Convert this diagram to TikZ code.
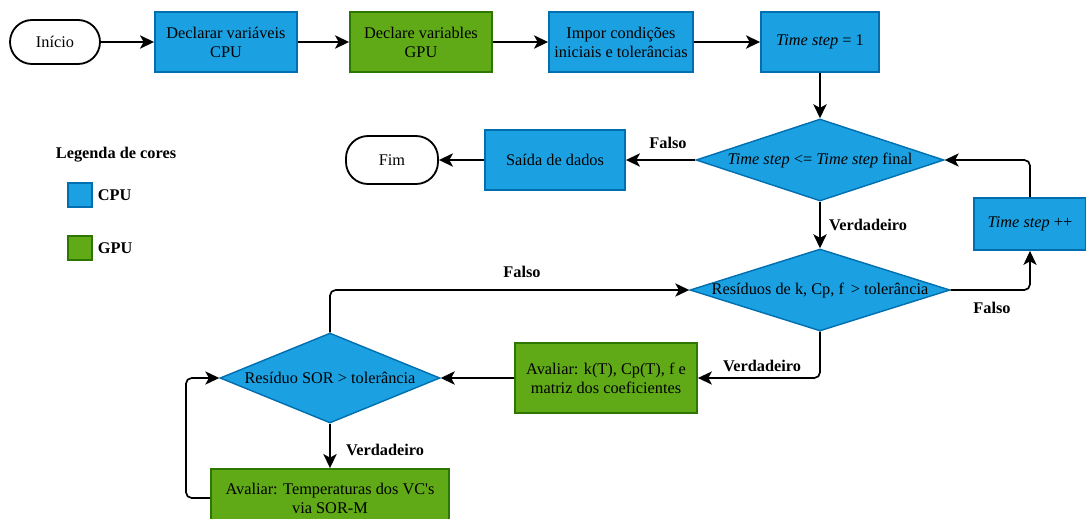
\documentclass[tikz,border=0pt]{standalone}
\usepackage{fontspec}
\setmainfont{Liberation Serif}
\usetikzlibrary{shapes.geometric,arrows.meta}

\definecolor{cpufill}{HTML}{1BA1E2}
\definecolor{cpuline}{HTML}{006EAF}
\definecolor{gpufill}{HTML}{60A917}
\definecolor{gpuline}{HTML}{2D7600}

\tikzset{
    cpu/.style={draw=cpuline, fill=cpufill, line width=1.3pt, align=center, inner sep=2pt},
    gpu/.style={draw=gpuline, fill=gpufill, line width=1.3pt, align=center, inner sep=2pt},
    decision/.style={diamond, aspect=3, draw=cpuline, fill=cpufill, line width=1pt, inner xsep=-0.4cm, inner ysep=0pt},
    terminal/.style={draw, line width=1.3pt, rounded corners=0.55cm},
    tag/.style={font=\fontsize{11.6}{13.6}\selectfont\bfseries},
    flow/.style={->, line width=1.7pt},
    back/.style={->, line width=1.2pt, rounded corners=4pt},
}

\begin{document}
\begin{tikzpicture}[font=\fontsize{11.6}{13.6}\selectfont, >={Stealth[length=3.5mm,width=3.3mm,inset=0.9mm]}]
        \useasboundingbox (0, 0) rectangle (27.15, -12.95);

        \draw (1.375, -1.05) node[terminal, minimum width=2.25cm, minimum height=1.1cm] (inicio) {Início};
        \draw (5.65, -1.05) node[cpu, minimum width=3.55cm, minimum height=1.5cm] (cpuvar) {Declarar variáveis\\CPU};
        \draw (10.525, -1.05) node[gpu, minimum width=3.55cm, minimum height=1.5cm] (gpuvar) {Declare variables\\GPU};
        \draw (15.525, -1.05) node[cpu, minimum width=3.6cm, minimum height=1.5cm] (impor) {Impor condições\\iniciais e tolerâncias};
        \draw (20.5, -1.05) node[cpu, minimum width=2.95cm, minimum height=1.5cm] (tsone) {\textit{Time step} = 1};

        \draw (20.5, -4.0) node[decision, minimum width=6.2cm, minimum height=2.05cm] (tsloop) {\textit{Time step} <= \textit{Time step} final};
        \draw (13.875, -4.0) node[cpu, minimum width=3.5cm, minimum height=1.5cm] (saida) {Saída de dados};
        \draw (9.8, -4.0) node[terminal, minimum width=2.3cm, minimum height=1.2cm] (fim) {Fim};
        \draw (25.75, -5.6) node[cpu, minimum width=2.8cm, minimum height=1.3cm] (tsinc) {\textit{Time step} ++};

        \draw (20.5, -7.25) node[decision, minimum width=6.5cm, minimum height=2.05cm] (resid) {Resíduos de k, Cp, f \,> tolerância};
        \draw (15.15, -9.45) node[gpu, minimum width=4.55cm, minimum height=1.75cm] (coef) {Avaliar: k(T), Cp(T), f e\\matriz dos coeficientes};
        \draw (8.25, -9.45) node[decision, minimum width=5.5cm, minimum height=2.25cm] (sor) {Resíduo SOR > tolerância};
        \draw (8.25, -12.45) node[gpu, minimum width=5.95cm, minimum height=1.45cm] (temp) {Avaliar: Temperaturas dos VC\textquotesingle s\\via SOR-M};
        \coordinate (loop) at (4.65, -9.45);

        \draw (2.9, -3.875) node[tag] (legenda) {Legenda de cores};
        \draw (2.0, -4.875) node[cpu, minimum size=0.6cm, inner sep=0pt] (cpukey) {};
        \draw (2.0, -6.2) node[gpu, minimum size=0.6cm, inner sep=0pt] (gpukey) {};
        \draw (cpukey.east) node[tag, right] (cpulabel) {CPU};
        \draw (gpukey.east) node[tag, right] (gpulabel) {GPU};

        \draw[flow] (inicio) -- (cpuvar);
        \draw[flow] (cpuvar) -- (gpuvar);
        \draw[flow] (gpuvar) -- (impor);
        \draw[flow] (impor) -- (tsone);
        \draw[flow] (tsone) -- (tsloop);
        \draw[flow] (tsloop) -- (saida);
        \draw[flow] (saida) -- (fim);
        \draw[flow] (tsloop) -- (resid);
        \draw[back] (resid.east) -| (tsinc.south);
        \draw[back] (tsinc.north) |- (tsloop.east);
        \draw[back] (resid.south) |- (coef.east);
        \draw[flow] (coef) -- (sor);
        \draw[back] (sor.north) |- (resid.west);
        \draw[flow] (sor) -- (temp);
        \draw[back] (temp.west) -| (loop) -- (sor.west);

        \draw (16.7, -3.575) node[tag] (falsoa) {Falso};
        \draw (21.7, -5.625) node[tag] (verdadeiroa) {Verdadeiro};
        \draw (24.8, -7.7) node[tag] (falsob) {Falso};
        \draw (13.05, -6.8) node[tag] (falsoc) {Falso};
        \draw (19.05, -9.15) node[tag] (verdadeirob) {Verdadeiro};
        \draw (9.625, -11.25) node[tag] (verdadeiroc) {Verdadeiro};
\end{tikzpicture}
\end{document}
